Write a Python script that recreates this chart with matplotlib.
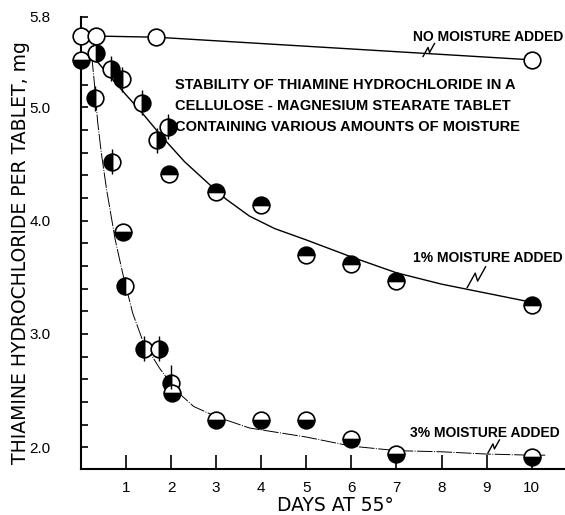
import numpy as np
import matplotlib
matplotlib.use("Agg")
import matplotlib.pyplot as plt
import matplotlib.transforms as mtransforms
from matplotlib import font_manager

# --- data ---
days_none = [0.0, 0.33, 1.67, 10.0]
mg_none = [5.63, 5.63, 5.62, 5.42]

days_1 = [0.0, 0.33, 0.67, 0.92, 1.36, 1.69, 1.93, 1.96, 3.0, 4.0, 5.0, 6.0, 7.0, 10.0]
mg_1 = [5.42, 5.48, 5.34, 5.25, 5.04, 4.71, 4.83, 4.41, 4.25, 4.14, 3.70, 3.62, 3.47, 3.26]
fill_1 = ["bottom", "right", "right", "left", "right", "right", "right",
          "top", "top", "top", "top", "top", "top", "top"]

days_3 = [0.30, 0.68, 0.94, 0.98, 1.40, 1.72, 1.99, 2.01, 3.0, 4.0, 5.0, 6.0, 7.0, 10.0]
mg_3 = [5.08, 4.52, 3.90, 3.42, 2.87, 2.87, 2.57, 2.48, 2.24, 2.24, 2.24, 2.07, 1.94, 1.91]
fill_3 = ["left", "left", "bottom", "left", "left", "right", "left",
          "bottom", "bottom", "bottom", "bottom", "bottom", "bottom", "bottom"]

# vertical bars through some points
bar_x_1 = [0.67, 0.92, 1.36, 1.69, 1.93]
bar_y_1 = [5.34, 5.25, 5.04, 4.71, 4.83]
bar_x_3 = [0.30, 0.68, 1.40, 1.72, 1.99]
bar_y_3 = [5.08, 4.52, 2.87, 2.87, 2.62]
bar_err = 0.11

# fitted curves
curve_x_1 = [0.22, 0.8, 1.36, 1.8, 2.3, 2.85, 3.22, 3.74, 4.3, 5.0, 6.0, 7.0, 8.0, 9.0, 10.0]
curve_y_1 = [5.47, 5.20, 4.95, 4.74, 4.52, 4.32, 4.19, 4.04, 3.93, 3.83, 3.68, 3.54, 3.44, 3.36, 3.28]

curve_x_3 = [0.24, 0.30, 0.37, 0.45, 0.57, 0.76, 0.94, 1.15, 1.38, 1.74, 2.11, 2.5, 3.0,
             3.74, 5.0, 6.0, 7.0, 8.0, 9.0, 10.0, 10.3]
curve_y_3 = [5.45, 5.20, 4.87, 4.60, 4.27, 3.83, 3.51, 3.18, 2.93, 2.70, 2.50, 2.36, 2.27,
             2.17, 2.09, 2.01, 1.97, 1.96, 1.94, 1.93, 1.93]

title_lines = ["STABILITY OF THIAMINE HYDROCHLORIDE IN A",
               "CELLULOSE - MAGNESIUM STEARATE TABLET",
               "CONTAINING VARIOUS AMOUNTS OF MOISTURE"]

labels = ["NO MOISTURE ADDED", "1% MOISTURE ADDED", "3% MOISTURE ADDED"]
label_x = [7.37, 7.37, 7.30]
label_y = [5.62, 3.67, 2.13]
# where the little zigzag leaders touch the curves, and their size
leader_x = [7.59, 8.57, 9.03]
leader_y = [5.45, 3.41, 1.95]
leader_size = [1.0, 1.6, 1.0]

x_ticks = [1, 2, 3, 4, 5, 6, 7, 8, 9, 10]
y_ticks = [2.0, 2.2, 2.4, 2.6, 2.8, 3.0, 3.2, 3.4, 3.6, 3.8, 4.0, 4.2, 4.4, 4.6, 4.8,
           5.0, 5.2, 5.4, 5.6, 5.8]
y_labelled = {2.0: "2.0", 3.0: "3.0", 4.0: "4.0", 5.0: "5.0", 5.8: "5.8"}

names = {f.name for f in font_manager.fontManager.ttflist}
narrow = "Liberation Sans Narrow" if "Liberation Sans Narrow" in names else "Liberation Sans"
plt.rcParams['font.family'] = ['Liberation Sans', 'DejaVu Sans']

fig = plt.figure(figsize=(5.65, 5.15), dpi=100)
ax = fig.add_axes([81 / 565, 1 - 469 / 515, 1 - 81 / 565, (469 - 16.8) / 515])
ax.set_xlim(0, 10.74)
ax.set_ylim(1.808, 5.8)

for s in ["top", "right"]:
    ax.spines[s].set_visible(False)
for s in ["left", "bottom"]:
    ax.spines[s].set_linewidth(1.5)

ax.set_xticks(x_ticks)
ax.set_xticklabels([str(t) for t in x_ticks])
ax.set_yticks(y_ticks)
ax.set_yticklabels([y_labelled.get(round(t, 1), "") for t in y_ticks])
ax.tick_params(axis="x", direction="in", length=10, width=1.2, pad=9, labelsize=11)
ax.tick_params(axis="y", direction="in", length=5, width=1.2, pad=22, labelsize=11)

ax.set_xlabel("DAYS AT 55°", fontsize=13.5, family="DejaVu Sans")
ax.xaxis.set_label_coords(0.525, -0.06)
ax.set_ylabel("THIAMINE HYDROCHLORIDE PER TABLET, mg", fontsize=13.5, family="DejaVu Sans")
ax.yaxis.set_label_coords(-0.105, 0.478)

# curves
ax.plot(days_none[1:], mg_none[1:], color="black", lw=1.0, zorder=2)
ax.plot(curve_x_1, curve_y_1, color="black", lw=1.0, zorder=2)
ax.plot(curve_x_3, curve_y_3, color="black", lw=0.7, ls=(0, (16, 1.5, 1, 1.5)), zorder=2)

ms = 12
ax.plot(days_none, mg_none, "o", ms=ms, mfc="white", mec="black", mew=1.2,
        ls="none", zorder=3, clip_on=False)
for xs, ys, fs in [(days_1, mg_1, fill_1), (days_3, mg_3, fill_3)]:
    for x, y, f in zip(xs, ys, fs):
        ax.plot(x, y, "o", ms=ms, fillstyle=f, mfc="black", mfcalt="white",
                mec="black", mew=1.2, zorder=3, clip_on=False)

ax.errorbar(bar_x_1, bar_y_1, yerr=bar_err, fmt="none", ecolor="black", elinewidth=1, zorder=4)
ax.errorbar(bar_x_3, bar_y_3, yerr=bar_err, fmt="none", ecolor="black", elinewidth=1, zorder=4)

# title block
for i, line in enumerate(title_lines):
    ax.text(2.09, 5.20 - i * 0.186, line, fontsize=10.5, fontweight="bold",
            family=[narrow, "DejaVu Sans"], va="center", ha="left")

# series labels with zigzag leaders
zig = np.array([[0, 0], [5, 9], [6.5, 4], [11.5, 13]]) / 100.0
for t, lx, ly, zx, zy, sz in zip(labels, label_x, label_y, leader_x, leader_y, leader_size):
    ax.text(lx, ly, t, fontsize=10, fontweight="bold", family=[narrow, "DejaVu Sans"],
            va="center", ha="left")
    tr = fig.dpi_scale_trans + mtransforms.ScaledTranslation(zx, zy, ax.transData)
    ax.plot(zig[:, 0] * sz, zig[:, 1] * sz, color="black", lw=1.0, transform=tr, clip_on=False)

fig.savefig("out.png", dpi=100)
